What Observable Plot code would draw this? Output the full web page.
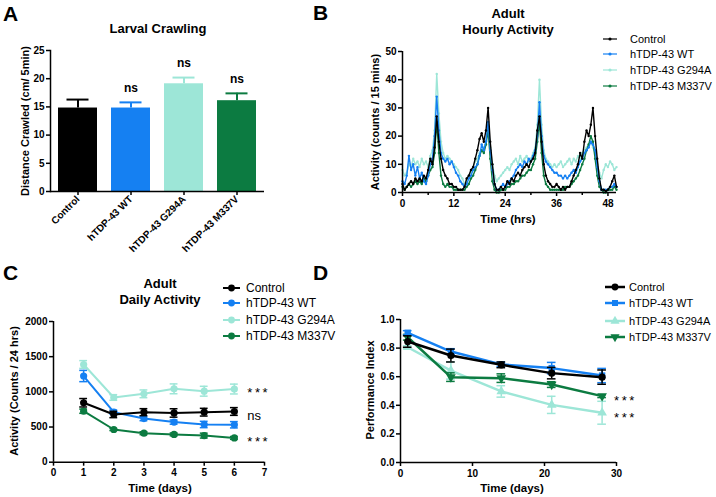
<!DOCTYPE html>
<html><head><meta charset="utf-8">
<script src="https://cdn.jsdelivr.net/npm/d3@7"></script>
<script src="https://cdn.jsdelivr.net/npm/@observablehq/plot@0.6"></script>
<style>
body{margin:0;background:#fff;}
#root{position:relative;width:716px;height:497px;overflow:hidden;font-family:"Liberation Sans",Arial,sans-serif;color:#000;}
.abs{position:absolute;white-space:nowrap;}
.letter{font-weight:bold;font-size:21px;line-height:21px;}
.title{font-weight:bold;font-size:13px;line-height:16px;text-align:center;}
.ylab{font-weight:bold;font-size:11px;line-height:12px;transform:translate(-50%,-50%) rotate(-90deg);}
.xlab{font-weight:bold;font-size:11.5px;line-height:12px;transform:translate(-50%,-50%);}
.leg{font-size:12px;line-height:14px;display:flex;align-items:center;width:max-content;}
.leg svg{flex-shrink:0;}
.leg span{flex-shrink:0;}
</style></head><body><div id="root"></div>
<script>
// ---------- shared ----------
const groups = ["Control", "hTDP-43 WT", "hTDP-43 G294A", "hTDP-43 M337V"];
const colors = ["#000000", "#1580f2", "#9de6d7", "#0c7b41"];

// ---------- A: larval crawling ----------
const crawlMean = [14.8, 14.8, 19.1, 16.1];
const crawlErr  = [1.5, 1.0, 1.1, 1.3];
const crawlSig  = ["", "ns", "ns", "ns"];

// ---------- B: hourly activity (15-min bins, read every 0.5 h, 0..50 h) ----------
const hourStep = 0.5;
const hourlyControl = [3,1,2,3,4,3,5,4,5,4,6,5,8,12,10,16,27,18,12,8,6,5,3,3,2,2,1,1,1,2,5,6,8,9,12,15,19,21,18,22,30,18,10,3,1,1,2,1,2,4,3,5,4,6,7,6,8,9,10,9,11,12,14,22,27,18,10,6,4,3,2,2,3,2,1,2,1,2,2,4,6,8,10,14,12,18,22,20,24,30,20,12,5,1,1,0.5,1,2,4,6,2];
const hourlyWT      = [4,3,6,13,8,10,6,9,5,7,4,3,6,10,12,20,34,22,14,12,11,12,10,11,9,7,6,4,3,2,3,5,6,8,9,10,13,17,15,18,25,15,8,3,1,1,2,3,2,3,4,5,6,8,9,10,9,11,10,12,11,13,15,20,32,20,13,11,10,9,8,7,7,6,6,5,6,5,6,7,8,7,9,11,12,14,15,16,18,17,15,9,4,1,1,1,1,2,2,3,2];
const hourlyG294A   = [8,6,7,10,9,12,10,11,9,12,10,11,9,13,15,22,42,28,18,14,12,13,12,11,10,9,8,6,5,3,4,6,7,9,11,12,14,15,16,18,24,16,10,6,4,5,6,7,8,9,8,10,11,12,10,13,11,12,13,11,12,14,16,24,40,24,15,12,11,10,9,10,9,10,11,9,10,11,12,10,12,11,13,12,14,15,16,17,18,16,14,10,7,5,8,10,9,11,10,8,9];
const hourlyM337V   = [2,1,2,3,2,3,4,3,4,3,5,4,6,8,9,14,25,14,6,3,2,3,2,2,1,1,1,1,1,1,2,3,5,6,8,10,13,15,14,17,22,12,4,1,0,0,1,1,1,2,2,3,3,4,4,5,6,6,7,8,8,10,12,18,25,14,6,3,2,1,1,1,1,1,1,1,2,2,2,3,4,5,6,8,10,12,15,17,20,18,12,6,2,1,0,0,1,1,1,2,1];
const hourTicks = [0, 12, 24, 36, 48];
const hourMinorTicks = [6, 18, 30, 42];

// ---------- C: daily activity ----------
const days = [1, 2, 3, 4, 5, 6];
const dailyControl = [845, 678, 711, 700, 711, 721];
const dailyWT      = [1225, 711, 620, 570, 536, 532];
const dailyG294A   = [1389, 920, 972, 1043, 1009, 1040];
const dailyM337V   = [725, 465, 412, 395, 378, 345];
const dailyErrControl = [60, 45, 50, 60, 55, 55];
const dailyErrWT      = [80, 30, 30, 30, 45, 45];
const dailyErrG294A   = [55, 40, 55, 70, 70, 70];
const dailyErrM337V   = [30, 15, 20, 20, 35, 20];
const dailySig = ["ns", "", "***", "***"];

// ---------- D: climbing performance ----------
const climbDays = [1, 7, 14, 21, 28];
const perfControl = [0.846, 0.748, 0.683, 0.625, 0.597];
const perfWT      = [0.907, 0.776, 0.686, 0.660, 0.608];
const perfG294A   = [0.806, 0.643, 0.497, 0.403, 0.348];
const perfM337V   = [0.876, 0.597, 0.590, 0.545, 0.464];
const perfErrControl = [0.04, 0.045, 0.02, 0.04, 0.05];
const perfErrWT      = [0.015, 0.02, 0.015, 0.04, 0.05];
const perfErrG294A   = [0.01, 0.06, 0.04, 0.06, 0.08];
const perfErrM337V   = [0.02, 0.03, 0.03, 0.02, 0.01];
const perfSig = ["", "", "***", "***"];
const perfSymbols = ["circle", "square", "triangle", "triangle"];
const perfRotate = [0, 0, 0, 180];

// ---------- helpers ----------
const root = document.getElementById("root");
const FONT = '"Liberation Sans", Arial, sans-serif';
const baseStyle = {fontFamily: FONT, fontSize: "10px", fontWeight: "bold", color: "#000", background: "transparent", overflow: "visible"};
function place(node, left, top) {
  node.style.position = "absolute"; node.style.left = left + "px"; node.style.top = top + "px";
  root.appendChild(node); return node;
}
function div(cls, html, css) {
  const d = document.createElement("div"); d.className = "abs " + cls; d.innerHTML = html;
  Object.assign(d.style, css); root.appendChild(d); return d;
}
const colorScale = {domain: groups, range: colors};
const axisCommon = {tickSize: 4, strokeWidth: 1.5, label: null};

// ---------- Panel A ----------
const dataA = groups.map((g, i) => ({g, m: crawlMean[i], e: crawlMean[i] + crawlErr[i], s: crawlSig[i]}));
const plotA = Plot.plot({
  width: 280, height: 211, marginLeft: 50, marginTop: 10, marginBottom: 60, marginRight: 16,
  style: baseStyle,
  x: {domain: groups, paddingInner: 0.27, paddingOuter: 0.15, label: null},
  y: {domain: [0, 25], label: null},
  color: colorScale,
  marks: [
    Plot.ruleX(dataA, {x: "g", y1: "m", y2: "e", stroke: "g", strokeWidth: 2}),
    Plot.tickY(dataA, {x: "g", y: "e", stroke: "g", strokeWidth: 2, inset: 8.5}),
    Plot.barY(dataA, {x: "g", y: "m", fill: "g"}),
    Plot.text(dataA, {x: "g", y: "e", text: "s", dy: -14, fontSize: 12, fontWeight: "bold"}),
    Plot.axisY({...axisCommon, ticks: [0, 5, 10, 15, 20, 25], tickPadding: 2}),
    Plot.axisX({...axisCommon, tickRotate: -45, tickPadding: 2}),
    Plot.ruleY([0], {strokeWidth: 1.5}),
    Plot.frame({anchor: "left", strokeWidth: 1.5})
  ]
});
place(plotA, 0, 40);

// ---------- Panel B ----------
const hourly = [hourlyControl, hourlyWT, hourlyG294A, hourlyM337V];
const dataB = [];
hourly.forEach((arr, gi) => arr.forEach((v, i) => dataB.push({g: groups[gi], t: i * hourStep, v})));
const orderB = [2, 3, 1, 0];
const plotB = Plot.plot({
  width: 280, height: 240, marginLeft: 62, marginTop: 51, marginBottom: 48, marginRight: 4,
  style: baseStyle,
  x: {domain: [0, 50], label: null},
  y: {domain: [0, 50], label: null},
  color: colorScale,
  marks: [
    ...orderB.flatMap(gi => {
      const d = dataB.filter(r => r.g === groups[gi]);
      return [
        Plot.line(d, {x: "t", y: "v", stroke: "g", strokeWidth: 1.4}),
        Plot.dot(d, {x: "t", y: "v", fill: "g", r: 1.2})
      ];
    }),
    Plot.axisY({...axisCommon, ticks: [0, 10, 20, 30, 40, 50], tickPadding: 2}),
    Plot.axisX({...axisCommon, ticks: hourTicks, tickPadding: 3}),
    Plot.axisX({...axisCommon, ticks: hourMinorTicks, tickSize: 3, tickFormat: () => ""}),
    Plot.ruleY([0], {strokeWidth: 1.5}),
    Plot.ruleX([0], {strokeWidth: 1.5})
  ]
});
place(plotB, 340, 0);

// ---------- Panel C ----------
const dailyMeans = [dailyControl, dailyWT, dailyG294A, dailyM337V];
const dailyErrs = [dailyErrControl, dailyErrWT, dailyErrG294A, dailyErrM337V];
const dataC = [];
dailyMeans.forEach((arr, gi) => arr.forEach((m, i) => dataC.push({g: groups[gi], d: days[i], m, lo: m - dailyErrs[gi][i], hi: m + dailyErrs[gi][i]})));
const annC = groups.map((g, gi) => ({g, d: days[days.length - 1], m: dailyMeans[gi][days.length - 1], s: dailySig[gi]})).filter(r => r.s);
const orderCD = [2, 3, 1, 0];
const capC = 0.13;
const plotC = Plot.plot({
  width: 330, height: 237, marginLeft: 53, marginTop: 61, marginBottom: 35.3, marginRight: 66,
  style: baseStyle,
  x: {domain: [0, 7], label: null},
  y: {domain: [0, 2000], label: null},
  color: colorScale,
  marks: [
    ...orderCD.flatMap(gi => {
      const d = dataC.filter(r => r.g === groups[gi]);
      return [
        Plot.ruleX(d, {x: "d", y1: "lo", y2: "hi", stroke: "g", strokeWidth: 1.5}),
        Plot.ruleY(d, {x1: r => r.d - capC, x2: r => r.d + capC, y: "hi", stroke: "g", strokeWidth: 1.5}),
        Plot.ruleY(d, {x1: r => r.d - capC, x2: r => r.d + capC, y: "lo", stroke: "g", strokeWidth: 1.5}),
        Plot.line(d, {x: "d", y: "m", stroke: "g", strokeWidth: 2}),
        Plot.dot(d, {x: "d", y: "m", fill: "g", r: 3.6})
      ];
    }),
    Plot.text(annC, {x: "d", y: "m", text: "s", textAnchor: "start", dx: 13, dy: 4, fontSize: 13, fontWeight: "normal"}),
    Plot.axisY({...axisCommon, ticks: [0, 500, 1000, 1500, 2000], tickFormat: "d", tickPadding: 2}),
    Plot.axisX({...axisCommon, ticks: [0, 1, 2, 3, 4, 5, 6, 7], tickFormat: "d", tickPadding: 3}),
    Plot.ruleY([0], {strokeWidth: 1.5}),
    Plot.ruleX([0], {strokeWidth: 1.5})
  ]
});
place(plotC, 0, 260);

// ---------- Panel D ----------
const perfMeans = [perfControl, perfWT, perfG294A, perfM337V];
const perfErrs = [perfErrControl, perfErrWT, perfErrG294A, perfErrM337V];
const dataD = [];
perfMeans.forEach((arr, gi) => arr.forEach((m, i) => dataD.push({g: groups[gi], d: climbDays[i], m, lo: m - perfErrs[gi][i], hi: m + perfErrs[gi][i]})));
const annD = groups.map((g, gi) => ({g, d: climbDays[climbDays.length - 1], m: perfMeans[gi][climbDays.length - 1], s: perfSig[gi]})).filter(r => r.s);
const capD = 0.6;
const plotD = Plot.plot({
  width: 336, height: 237, marginLeft: 60, marginTop: 59, marginBottom: 35, marginRight: 60,
  style: baseStyle,
  x: {domain: [0, 30], label: null},
  y: {domain: [0, 1], label: null},
  color: colorScale,
  marks: [
    ...orderCD.flatMap(gi => {
      const d = dataD.filter(r => r.g === groups[gi]);
      return [
        Plot.ruleX(d, {x: "d", y1: "lo", y2: "hi", stroke: "g", strokeWidth: 1.5}),
        Plot.ruleY(d, {x1: r => r.d - capD, x2: r => r.d + capD, y: "hi", stroke: "g", strokeWidth: 1.5}),
        Plot.ruleY(d, {x1: r => r.d - capD, x2: r => r.d + capD, y: "lo", stroke: "g", strokeWidth: 1.5}),
        Plot.line(d, {x: "d", y: "m", stroke: "g", strokeWidth: 2.5}),
        Plot.dot(d, {x: "d", y: "m", fill: "g", r: 3.6, symbol: () => perfSymbols[gi], rotate: perfRotate[gi]})
      ];
    }),
    Plot.text(annD, {x: "d", y: "m", text: "s", textAnchor: "start", dx: 12, dy: 5, fontSize: 13, fontWeight: "normal"}),
    Plot.axisY({...axisCommon, ticks: [0, 0.2, 0.4, 0.6, 0.8, 1.0], tickFormat: ".1f", tickPadding: 2}),
    Plot.axisX({...axisCommon, ticks: [0, 10, 20, 30], tickFormat: "d", tickPadding: 3}),
    Plot.ruleY([0], {strokeWidth: 1.5}),
    Plot.ruleX([0], {strokeWidth: 1.5})
  ]
});
place(plotD, 340, 260);

// letter-space the significance stars
[plotC, plotD].forEach(p => d3.select(p).selectAll("text").filter(function () { return this.textContent === "***"; }).style("letter-spacing", "2.5px"));

// ---------- text overlays ----------
div("letter", "A", {left: "3px", top: "3px"});
div("letter", "B", {left: "313px", top: "2px"});
div("letter", "C", {left: "3px", top: "262px"});
div("letter", "D", {left: "313px", top: "262px"});

div("title", "Larval Crawling", {left: "78px", width: "160px", top: "21px"});
div("title", "Adult<br>Hourly Activity", {left: "428px", width: "160px", top: "6px"});
div("title", "Adult<br>Daily Activity", {left: "80px", width: "160px", top: "276px"});

div("ylab", "Distance Crawled (cm/ 5min)", {left: "25px", top: "121px"});
div("ylab", "Activity (counts / 15 mins)", {left: "375px", top: "122px"});
div("ylab", "Activity (Counts / 24 hrs)", {left: "14px", top: "391px"});
div("ylab", "Performance Index", {left: "370px", top: "390px"});

div("xlab", "Time (hrs)", {left: "508px", top: "219px"});
div("xlab", "Time (days)", {left: "160px", top: "488px"});
div("xlab", "Time (days)", {left: "512px", top: "488px"});

// ---------- legends ----------
function legend(left, centers, opts) {
  groups.forEach((g, i) => {
    const sym = d3.symbol().type(opts.symbols[i]).size(opts.size)();
    const html = `<svg width="${opts.svgW}" height="14" style="overflow:visible">
      <line x1="${opts.x0}" x2="${opts.x0 + opts.lineW}" y1="7" y2="7" stroke="${colors[i]}" stroke-width="${opts.sw}"/>
      <path d="${sym}" transform="translate(${opts.x0 + opts.lineW / 2},7) rotate(${opts.rot[i]})" fill="${colors[i]}"/>
    </svg><span style="font-size:${opts.fs}px">${g}</span>`;
    div("leg", html, {left: left + "px", top: (centers[i] - 7) + "px"});
  });
}
const circ = d3.symbolCircle, sq = d3.symbolSquare, tri = d3.symbolTriangle;
legend(600, [39, 54, 70, 86], {svgW: 30, x0: 3, lineW: 14, sw: 1.2, size: 8, fs: 11, symbols: [circ, circ, circ, circ], rot: [0, 0, 0, 0]});
legend(220, [288, 303, 320, 336], {svgW: 26, x0: 3, lineW: 17, sw: 2, size: 36, fs: 12, symbols: [circ, circ, circ, circ], rot: [0, 0, 0, 0]});
legend(602, [287, 303, 321, 337], {svgW: 27, x0: 3, lineW: 20, sw: 2.5, size: 36, fs: 11, symbols: [circ, sq, tri, tri], rot: [0, 0, 0, 180]});
</script></body></html>
